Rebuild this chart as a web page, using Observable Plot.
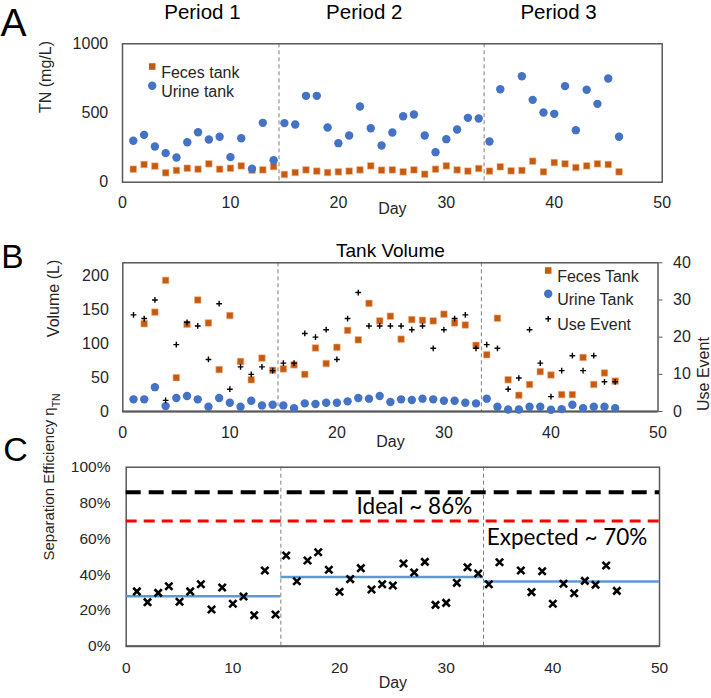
<!DOCTYPE html>
<html><head><meta charset="utf-8">
<script src="https://cdn.jsdelivr.net/npm/d3@7"></script>
<script src="https://cdn.jsdelivr.net/npm/@observablehq/plot@0.6"></script>
<style>
body{margin:0;background:#fff;}
#fig{position:relative;width:711px;height:698px;overflow:hidden;}
#fig svg{position:absolute;left:0;}
</style></head><body><div id="fig"></div>
<script>
// ---------- data ----------
const days = [1,2,3,4,5,6,7,8,9,10,11,12,13,14,15,16,17,18,19,20,21,22,23,24,25,26,27,28,29,30,31,32,33,34,35,36,37,38,39,40,41,42,43,44,45,46];
const xTicks = [0,10,20,30,40,50];
const periodBreaks = [14.5,33.5];
const periodStarts = [0,14.5,33.5];
const periodEnds = [14.5,33.5,50];
const periodNames = ["Period 1","Period 2","Period 3"];
const periodLabelDays = [7.4,22.4,40.4];

// Panel A: TN (mg/L)
const tnTicks = [0,500,1000];
const tnFeces = [94,128,116,68,85,101,94,133,94,101,118,87,89,113,56,70,89,80,70,75,80,89,118,87,89,75,89,58,94,118,89,80,99,80,111,82,85,152,75,142,133,106,118,133,128,75];
const tnUrine = [299,342,258,210,178,289,361,308,328,181,318,97,429,159,427,417,624,624,395,282,337,547,390,265,359,477,489,337,217,311,381,465,460,294,672,null,766,595,504,494,694,376,668,566,749,328];
const tnLegend = ["Feces tank","Urine tank"];

// Panel B: Tank volume (L) and use events
const volTicks = [0,50,100,150,200];
const volDomain = [0,220];
const useTicks = [0,10,20,30,40];
const useDomain = [0,40];
const volFeces = [null,130,147,194,50,129,165,131,62,142,74,47,79,61,63,69,55,94,71,95,120,106,160,134,141,107,136,135,134,144,131,128,98,84,138,47,24,40,59,54,25,25,80,40,57,45];
const volUrine = [18,18,36,8,20,23,18,7,20,13,7,16,9,10,9,5,12,11,13,13,15,20,19,23,14,18,17,19,18,16,16,13,12,19,7,3,3,7,7,2.5,3.5,10,5,7,7,5];
const useEvents = [26,25,30,3,18,24,23,14,29,6,12,10,12,11,13,13,21,20,22,14,25,32,23,23,23,23,22,23,17,22,25,26,17,18,17,6,9,22,13,4,11,15,11,15,8,8];
const volLegend = ["Feces Tank","Urine Tank","Use Event"];

// Panel C: separation efficiency (%)
const effTicks = [0,20,40,60,80,100];
const sepEff = [30.6,24.6,29.8,33.5,24.8,30.6,34.6,20.5,32.8,23.7,27.8,17.3,42.3,17.7,50.7,36.3,47.9,52.5,42.7,30.4,37.5,43.6,31.7,34.6,33.9,46.2,41.2,47.1,23.1,24.2,35.4,44.1,40.6,34.6,46.9,null,42.3,30.2,41.9,23.7,34.9,29.6,36.5,34.3,45.1,30.9];
const periodMeans = [27.9,38.7,36.1];
const idealEff = 86;
const expectedEff = 70;
const annotationTexts = ["Ideal ~ 86%","Expected ~ 70%"];
const annotationDays = [21.6,33.8];
const annotationValues = [74,56.8];

// ---------- style ----------
const FONT = '"Liberation Sans", Arial, Helvetica, sans-serif';
const ORANGE = "#C55A11";
const BLUE = "#4472C4";
const AXIS = "#595959";
const TXT = "#262626";
const FS = 16;
const baseStyle = {fontFamily: FONT, fontSize: FS + "px", color: TXT, background: "none", overflow: "visible"};
const fig = document.getElementById("fig");
const fmt = d => String(d);

// ---------- Panel A ----------
const plotA = Plot.plot({
  width: 711, height: 220,
  marginLeft: 122, marginRight: 49.3, marginTop: 43.3, marginBottom: 38.3,
  style: baseStyle,
  x: {domain: [0,50]}, y: {domain: [0,1000]},
  marks: [
    Plot.ruleX(periodBreaks, {stroke: "#7f7f7f", strokeDasharray: "4,3", strokeWidth: 1}),
    Plot.frame({stroke: AXIS, strokeWidth: 1.5}),
    Plot.axisX({ticks: xTicks, tickSize: 0, tickPadding: 14.3, tickFormat: fmt, label: null, fontSize: FS}),
    Plot.axisY({ticks: tnTicks, tickSize: 0, tickPadding: 14.3, tickFormat: fmt, label: null, fontSize: FS}),
    Plot.dot(days, {x: d => d, y: (d,i) => tnFeces[i], symbol: "square", r: 3.7, fill: ORANGE, stroke: "#f4b183", strokeWidth: 0.6}),
    Plot.dot(days, {x: d => d, y: (d,i) => tnUrine[i], r: 4.2, fill: BLUE}),
    Plot.text(periodNames, {x: periodLabelDays, frameAnchor: "top", dy: -24.8, lineAnchor: "bottom", fontSize: 20.5, fill: "#000"}),
    Plot.text(["Day"], {frameAnchor: "bottom", dy: 31.6, fontSize: FS}),
    Plot.text(["TN (mg/L)"], {frameAnchor: "left", dx: -77, rotate: -90, fontSize: FS}),
    Plot.dot([tnLegend[0]], {frameAnchor: "top-left", dx: 29.7, dy: 22.7, symbol: "square", r: 3.7, fill: ORANGE}),
    Plot.dot([tnLegend[1]], {frameAnchor: "top-left", dx: 29.7, dy: 42, r: 4.2, fill: BLUE}),
    Plot.text([tnLegend[0]], {frameAnchor: "top-left", dx: 38.7, dy: 22.7, textAnchor: "start", fontSize: 16}),
    Plot.text([tnLegend[1]], {frameAnchor: "top-left", dx: 38.7, dy: 42, textAnchor: "start", fontSize: 16}),
    Plot.text(["A"], {frameAnchor: "top-left", dx: -122, dy: -8.3, textAnchor: "start", lineAnchor: "bottom", fontSize: 39, fill: "#000"})
  ]
});
plotA.style.top = "0px";
fig.appendChild(plotA);

// ---------- Panel B ----------
const k = volDomain[1] / useDomain[1];
const plotB = Plot.plot({
  width: 711, height: 235,
  marginLeft: 122.3, marginRight: 53.5, marginTop: 42.3, marginBottom: 44,
  style: baseStyle,
  x: {domain: [0,50]}, y: {domain: volDomain},
  marks: [
    Plot.ruleX(periodBreaks, {stroke: "#7f7f7f", strokeDasharray: "4,3", strokeWidth: 1}),
    Plot.frame({stroke: AXIS, strokeWidth: 1.5}),
    Plot.ruleY([0], {stroke: AXIS, strokeWidth: 2.2}),
    Plot.axisX({ticks: xTicks, tickSize: 0, tickPadding: 15.3, tickFormat: fmt, label: null, fontSize: FS}),
    Plot.axisY({ticks: volTicks, tickSize: 0, tickPadding: 14, tickFormat: fmt, label: null, fontSize: FS}),
    Plot.axisY(useTicks.map(t => t * k), {anchor: "right", tickSize: 4, tickPadding: 11, tickFormat: d => String(Math.round(d / k)), label: null, fontSize: FS, stroke: AXIS}),
    Plot.dot(days, {x: d => d, y: (d,i) => volUrine[i], r: 4.2, fill: BLUE}),
    Plot.dot(days, {x: d => d, y: (d,i) => volFeces[i], symbol: "square", r: 3.7, fill: ORANGE, stroke: "#f4b183", strokeWidth: 0.6}),
    Plot.dot(days, {x: d => d, y: (d,i) => useEvents[i] * k, symbol: "plus", r: 2, stroke: "#000", strokeWidth: 1.4}),
    Plot.text(["Tank Volume"], {frameAnchor: "top", dy: -5.6, lineAnchor: "bottom", fontSize: 19, fill: "#000"}),
    Plot.text(["Day"], {frameAnchor: "bottom", dy: 35, fontSize: FS}),
    Plot.text(["Volume (L)"], {frameAnchor: "left", dx: -69, rotate: -90, fontSize: FS}),
    Plot.text(["Use Event"], {frameAnchor: "right", dx: 45.8, rotate: -90, fontSize: FS}),
    Plot.dot([volLegend[0]], {frameAnchor: "top-right", dx: -109.8, dy: 7.7, symbol: "square", r: 3.7, fill: ORANGE}),
    Plot.dot([volLegend[1]], {frameAnchor: "top-right", dx: -109.8, dy: 31, r: 4.2, fill: BLUE}),
    Plot.dot([volLegend[2]], {frameAnchor: "top-right", dx: -109.8, dy: 56, symbol: "plus", r: 2, stroke: "#000", strokeWidth: 1.4}),
    Plot.text([volLegend[0]], {frameAnchor: "top-right", dx: -100.8, dy: 7.7, textAnchor: "start", fontSize: 16}),
    Plot.text([volLegend[1]], {frameAnchor: "top-right", dx: -100.8, dy: 31, textAnchor: "start", fontSize: 16}),
    Plot.text([volLegend[2]], {frameAnchor: "top-right", dx: -100.8, dy: 56, textAnchor: "start", fontSize: 16}),
    Plot.text(["B"], {frameAnchor: "top-left", dx: -121.5, dy: 5, textAnchor: "start", lineAnchor: "bottom", fontSize: 33.5, fill: "#000"})
  ]
});
plotB.style.top = "220px";
fig.appendChild(plotB);

// ---------- Panel C ----------
const yLabelC = "Separation Efficiency \u03b7";
const plotC = Plot.plot({
  width: 711, height: 243,
  marginLeft: 125.7, marginRight: 52, marginTop: 11.7, marginBottom: 52.3,
  style: baseStyle,
  x: {domain: [0,50]}, y: {domain: [0,100]},
  marks: [
    Plot.ruleX(periodBreaks, {stroke: "#7f7f7f", strokeDasharray: "4,3", strokeWidth: 1}),
    Plot.frame({stroke: AXIS, strokeWidth: 1.5}),
    Plot.ruleY([0], {stroke: AXIS, strokeWidth: 2}),
    Plot.axisX({ticks: xTicks, tickSize: 0, tickPadding: 15.3, tickFormat: fmt, label: null, fontSize: 15.5}),
    Plot.axisY({ticks: effTicks, tickSize: 0, tickPadding: 15.7, tickFormat: d => d + "%", label: null, fontSize: 15.5}),
    Plot.ruleY([idealEff], {stroke: "#000", strokeWidth: 4, strokeDasharray: "15,8"}),
    Plot.ruleY([expectedEff], {stroke: "#ff0000", strokeWidth: 3, strokeDasharray: "11,7"}),
    Plot.ruleY(periodMeans, {y: d => d, x1: periodStarts, x2: periodEnds, stroke: "#5B9BD5", strokeWidth: 2.5}),
    Plot.dot(days, {x: d => d, y: (d,i) => sepEff[i], symbol: "times", r: 3.4, stroke: "#000", strokeWidth: 2.6}),
    Plot.text(annotationTexts, {x: annotationDays, y: annotationValues, textAnchor: "start", lineAnchor: "bottom", fontSize: 22.5, fontFamily: "Lato, 'Open Sans', sans-serif", fill: "#000"}),
    Plot.text(["Day"], {frameAnchor: "bottom", dy: 42, fontSize: FS}),
    Plot.text([yLabelC], {frameAnchor: "left", dx: -77.4, dy: 3.8, rotate: -90, fontSize: 15}),
    Plot.text(["C"], {frameAnchor: "top-left", dx: -123, dy: -6.5, textAnchor: "start", lineAnchor: "bottom", fontSize: 34, fill: "#000"})
  ]
});
d3.select(plotC).selectAll("text").filter(function(){ return this.textContent === yLabelC; })
  .append("tspan").attr("baseline-shift", "sub").attr("font-size", 10.5).text("TN");
plotC.style.top = "455px";
fig.appendChild(plotC);
</script>
</body></html>
